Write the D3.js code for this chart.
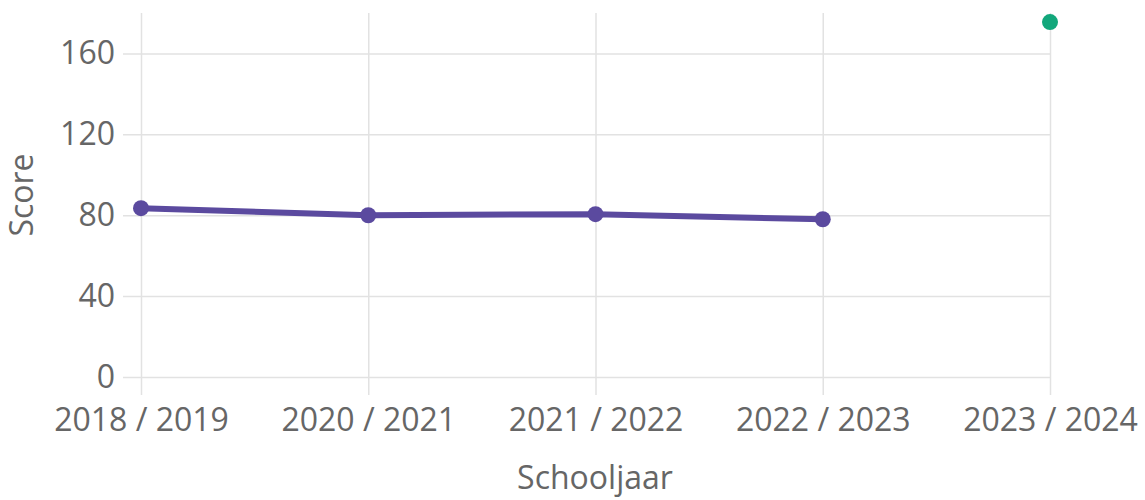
<!DOCTYPE html>
<html>
<head>
<meta charset="utf-8">
<script src="https://cdn.jsdelivr.net/npm/d3@7"></script>
<style>
  body { margin: 0; background: #fff; }
  text { font-family: "Open Sans", sans-serif; fill: #666; }
</style>
</head>
<body>
<svg id="chart"></svg>
<script>
const width = 1145;
const height = 500;
const margin = {left: 141, right: 95, top: 13, bottom: 123};

// Data
const years = ['2018 / 2019', '2020 / 2021', '2021 / 2022', '2022 / 2023', '2023 / 2024'];
const scores = [83.5, 80, 80.5, 78];
const score_years = ['2018 / 2019', '2020 / 2021', '2021 / 2022', '2022 / 2023'];
const target_year = ['2023 / 2024'];
const target_score = [175.5];
const y_ticks = [0, 40, 80, 120, 160];

const svg = d3.select('#chart')
    .attr('width', width)
    .attr('height', height);

const x = d3.scalePoint()
    .domain(years)
    .range([margin.left, width - margin.right]);

const y = d3.scaleLinear()
    .domain([0, 180])
    .range([height - margin.bottom, margin.top]);

// vertical grid + x labels
const xAxis = svg.append('g')
    .attr('transform', `translate(0, ${margin.top})`)
    .call(d3.axisBottom(x)
        .tickSize(height - margin.bottom - margin.top + 18)
        .tickPadding(13));
xAxis.select('.domain').remove();
xAxis.selectAll('line').attr('stroke', '#e2e2e2').attr('stroke-width', 1.5);
xAxis.selectAll('text')
    .style('font-size', '32px')
    .attr('fill', '#666');

// horizontal grid + y labels
const yAxis = svg.append('g')
    .attr('transform', `translate(${width - margin.right}, 0)`)
    .call(d3.axisLeft(y)
        .tickValues(y_ticks)
        .tickSize(width - margin.right - margin.left + 18)
        .tickPadding(8));
yAxis.select('.domain').remove();
yAxis.selectAll('line').attr('stroke', '#e2e2e2').attr('stroke-width', 1.5);
yAxis.selectAll('text')
    .style('font-size', '32px')
    .attr('fill', '#666');

// axis titles
svg.append('text')
    .attr('x', 595)
    .attr('y', 489)
    .attr('text-anchor', 'middle')
    .style('font-size', '32px')
    .text('Schooljaar');

svg.append('text')
    .attr('transform', `translate(33, ${y(90)}) rotate(-90)`)
    .attr('text-anchor', 'middle')
    .style('font-size', '32px')
    .text('Score');

// score line
const line = d3.line()
    .x((d, i) => x(score_years[i]))
    .y(d => y(d));

svg.append('path')
    .datum(scores)
    .attr('d', line)
    .attr('fill', 'none')
    .attr('stroke', '#5b4a9f')
    .attr('stroke-width', 6);

svg.selectAll('.score_dot')
    .data(scores)
    .enter().append('circle')
        .attr('class', 'score_dot')
        .attr('cx', (d, i) => x(score_years[i]))
        .attr('cy', d => y(d))
        .attr('r', 8)
        .attr('fill', '#5b4a9f');

svg.selectAll('.target_dot')
    .data(target_score)
    .enter().append('circle')
        .attr('class', 'target_dot')
        .attr('cx', (d, i) => x(target_year[i]))
        .attr('cy', d => y(d))
        .attr('r', 8)
        .attr('fill', '#12a77b');
</script>
</body>
</html>
